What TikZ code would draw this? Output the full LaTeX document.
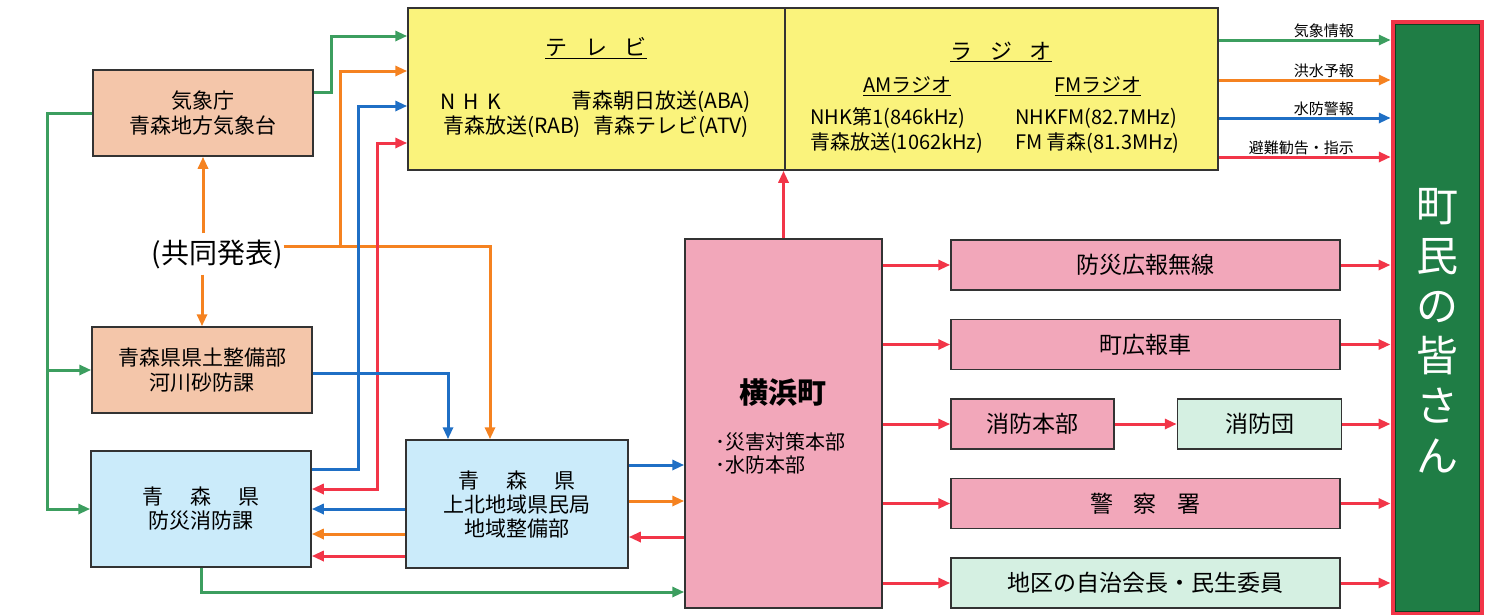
\documentclass[tikz,border=0pt]{standalone}
\usepackage{fontspec}
\setmainfont{Noto Sans CJK JP}
\usetikzlibrary{arrows.meta,positioning}

\definecolor{kpeach}{HTML}{F4C6AA}
\definecolor{kyellow}{HTML}{FAF37C}
\definecolor{kblue}{HTML}{CBEBFA}
\definecolor{kpink}{HTML}{F2A7BA}
\definecolor{kmint}{HTML}{D5F0E2}
\definecolor{kgreen}{HTML}{1F7D45}
\definecolor{kdark}{HTML}{123F22}
\definecolor{cgreen}{HTML}{3C9E5F}
\definecolor{corange}{HTML}{F58220}
\definecolor{cblue}{HTML}{1F6FC5}
\definecolor{cred}{HTML}{F23548}

\tikzset{
  box/.style={draw=black!80, line width=1.5pt, inner sep=0pt, align=center},
  peachbox/.style={box, fill=kpeach, minimum width=220pt, minimum height=86pt, font=\fontsize{21}{25}\selectfont},
  bluebox/.style={box, fill=kblue, minimum width=220pt, font=\fontsize{21}{24}\selectfont},
  yellowbox/.style={box, fill=kyellow, minimum height=162pt},
  pinkbox/.style={box, fill=kpink, minimum width=389pt, minimum height=50pt, font=\fontsize{23}{27}\selectfont},
  mintbox/.style={pinkbox, fill=kmint},
  peoplebox/.style={draw=cred, line width=5pt, fill=kgreen, minimum width=88pt, minimum height=591pt},
  jtext/.style={inner sep=1pt, font=\fontsize{20}{23}\selectfont},
  tvtext/.style={jtext, font=\fontsize{21}{24}\selectfont},
  lab/.style={inner sep=1pt, font=\fontsize{15}{18}\selectfont},
  conn/.style={line width=3pt},
  gline/.style={conn, draw=cgreen},
  oline/.style={conn, draw=corange},
  bline/.style={conn, draw=cblue},
  rline/.style={conn, draw=cred}
}

\begin{document}
\begin{tikzpicture}[x=1pt,y=-1pt,>={Triangle[length=12pt,width=10pt]}]
\useasboundingbox (0,0) rectangle (1490,614);

% left column
\node[peachbox] (kishou) at (203,113) {気象庁\\青森地方気象台};
\node[jtext, inner ysep=6pt, font=\fontsize{28}{30}\selectfont] (kyoudou) at (217,254) {(共同発表)};
\node[peachbox] (kendo) at (202,370) {青森県県土整備部\\河川砂防課};
\node[bluebox, minimum height=116pt] (bousai) at (201,509) {青\hspace{1.3em}森\hspace{1.3em}県\\防災消防課};
\node[bluebox, minimum width=222pt, minimum height=128pt] (kenmin) at (517,504)
  {青\hspace{1.3em}森\hspace{1.3em}県\\上北地域県民局\\地域整備部};

% tv and radio
\node[yellowbox, minimum width=377pt] (tv) at (596.5,89) {};
\node[yellowbox, minimum width=433pt] (radio) at (1001.5,89) {};
\node[jtext, font=\fontsize{22}{26}\selectfont] (tvtitle) at (596,48) {\underline{テ\hspace{0.8em}レ\hspace{0.8em}ビ}};
\node[tvtext, anchor=west] (nhk) at (439,102) {N\hspace{0.4em}H\hspace{0.4em}K};
\node[tvtext, anchor=east] (aba) at (752,102) {青森朝日放送(ABA)};
\node[tvtext] (rab) at (596,127) {青森放送(RAB)\hspace{0.6em}青森テレビ(ATV)};
\node[jtext, font=\fontsize{22}{26}\selectfont] (rdtitle) at (1001,52) {\underline{ラ\hspace{0.8em}ジ\hspace{0.8em}オ}};
\node[jtext] (am) at (907,86) {\underline{AMラジオ}};
\node[jtext] (fm) at (1098,86) {\underline{FMラジオ}};
\node[jtext, anchor=west] (am1) at (809,118) {NHK第1(846kHz)};
\node[jtext, anchor=west] (am2) at (809,143) {青森放送(1062kHz)};
\node[jtext, anchor=west] (fm1) at (1014,118) {NHKFM(82.7MHz)};
\node[jtext, anchor=west] (fm2) at (1014,143) {FM 青森(81.3MHz)};

% town
\node[pinkbox, minimum width=197pt, minimum height=369pt] (town) at (783.5,423.5) {};
\node[jtext, font=\fontsize{29}{33}\selectfont\bfseries] (townname) at (783,393) {横浜町};
\node[jtext, align=left, anchor=west, font=\fontsize{20}{23}\selectfont] (townsub) at (714,453) {･災害対策本部\\･水防本部};

% right column
\node[pinkbox] (musen) at (1145.5,265) {防災広報無線};
\node[pinkbox, below=28pt of musen] (car) {町広報車};
\node[pinkbox, minimum width=163pt, below right=28pt and 0pt of car.south west] (honbu) {消防本部};
\node[mintbox, minimum width=164pt, right=62pt of honbu] (dan) {消防団};
\node[pinkbox, below right=28pt and 0pt of honbu.south west] (police) {警\hspace{0.9em}察\hspace{0.9em}署};
\node[mintbox, below=28pt of police] (jichi) {地区の自治会長・民生委員};

% people
\node[peoplebox] (people) at (1437,317.5) {};
\draw[kdark, line width=1pt] ([shift={(4.5pt,-4.5pt)}]people.north west) rectangle ([shift={(-4.5pt,4.5pt)}]people.south east);
\node[jtext, text=white, align=center, font=\fontsize{42}{50}\selectfont] (peopletext) at ([yshift=-13pt]people.center) {町\\民\\の\\皆\\さ\\ん};

% connectors, left
\draw[gline,->] ([yshift=21pt]kishou.east) -- ++(18,0) |- ([yshift=53pt]tv.west);
\draw[gline,->] (kishou.west) -- ++(-45,0) |- (kendo.west);
\draw[gline,->] (kishou.west) -- ++(-45,0) |- (bousai.west);
\draw[oline,->] (kishou.south |- kyoudou.north) -- (kishou.south);
\draw[oline,->] (kendo.north |- kyoudou.south) -- (kendo.north);
\draw[oline,->] ([yshift=8pt]kyoudou.east) -| ([xshift=-27pt]kenmin.north);
\coordinate (ojoin) at (340,246);
\draw[oline,->] (ojoin) |- ([yshift=18pt]tv.west);
\draw[bline,->] ([yshift=40pt]bousai.east) -- ++(47,0) |- ([yshift=-17pt]tv.west);
\draw[rline,<->] ([yshift=-54pt]tv.west) -- ++(-30,0) |- ([yshift=20pt]bousai.east);
\draw[bline,->] ([yshift=-3pt]kendo.east) -| ([xshift=-69pt]kenmin.north);
\draw[bline,->] ([yshift=-5pt]kenmin.west) -- (bousai.east);
\draw[oline,->] ([yshift=-30pt]kenmin.west) -- ([yshift=-25pt]bousai.east);
\draw[rline,->] ([yshift=-52pt]kenmin.west) -- ([yshift=-47pt]bousai.east);
\draw[gline,->] (bousai.south) |- ([yshift=-168.5pt]town.west);

% connectors, town
\draw[bline,->] ([yshift=39pt]kenmin.east) -- ([yshift=-41.5pt]town.west);
\draw[oline,->] ([yshift=3pt]kenmin.east) -- ([yshift=-77.5pt]town.west);
\draw[rline,->] ([yshift=-113.5pt]town.west) -- ([yshift=-33pt]kenmin.east);
\draw[rline,->] (town.north) -- (town.north |- tv.south);
\foreach \b in {musen,car,honbu,police,jichi}
  \draw[rline,->] (town.east |- \b.west) -- (\b.west);
\draw[rline,->] (honbu) -- (dan);
\foreach \b in {musen,car,dan,police,jichi}
  \draw[rline,->] (\b.east) -- (\b.east -| people.west);

% connectors, top right
\draw[gline,->] ([yshift=49pt]radio.east) -- ++(172,0) node[lab, pos=0.8, anchor=south east] {気象情報};
\draw[oline,->] ([yshift=9pt]radio.east) -- ++(172,0) node[lab, pos=0.8, anchor=south east] {洪水予報};
\draw[bline,->] ([yshift=-29pt]radio.east) -- ++(172,0) node[lab, pos=0.8, anchor=south east] {水防警報};
\draw[rline,->] ([yshift=-68pt]radio.east) -- ++(172,0) node[lab, pos=0.8, anchor=south east] {避難勧告・指示};
\end{tikzpicture}
\end{document}
